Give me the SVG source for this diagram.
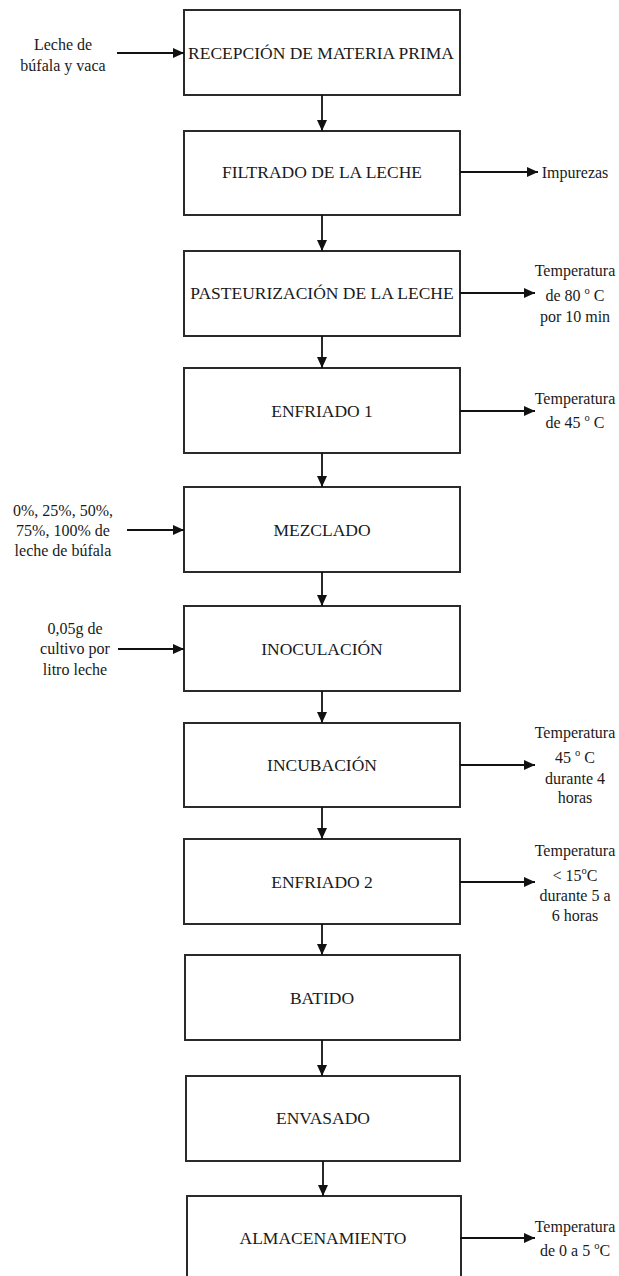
<svg xmlns="http://www.w3.org/2000/svg" width="619" height="1276" viewBox="0 0 619 1276">
<style>
.box{fill:#fff;stroke:#2a2a2a;stroke-width:2}
.bt{font-family:"Liberation Serif","Times New Roman",serif;font-size:17.5px;fill:#1a1a1a;text-anchor:middle;dominant-baseline:central}
.st{font-family:"Liberation Serif","Times New Roman",serif;font-size:16px;fill:#1a1a1a;text-anchor:middle;dominant-baseline:central}
.sup{font-size:10.5px}
.c{stroke:#111;stroke-width:1.8;fill:none;marker-end:url(#ah)}
</style>
<defs>
<marker id="ah" markerUnits="userSpaceOnUse" markerWidth="12" markerHeight="10" refX="11" refY="5" orient="auto">
<path d="M0,0 L11,5 L0,10 z" fill="#111"/>
</marker>
</defs>
<g id="n1"><rect class="box" x="184" y="10" width="276" height="85"/><text class="bt" x="321" y="53">RECEPCIÓN DE MATERIA PRIMA</text></g>
<g id="n2"><rect class="box" x="184" y="131" width="276" height="84"/><text class="bt" x="322" y="172">FILTRADO DE LA LECHE</text></g>
<g id="n3"><rect class="box" x="184" y="251" width="276" height="85"/><text class="bt" x="322" y="293">PASTEURIZACIÓN DE LA LECHE</text></g>
<g id="n4"><rect class="box" x="184" y="368" width="276" height="85"/><text class="bt" x="322" y="411">ENFRIADO 1</text></g>
<g id="n5"><rect class="box" x="184" y="487" width="276" height="85"/><text class="bt" x="322" y="530">MEZCLADO</text></g>
<g id="n6"><rect class="box" x="184" y="606" width="276" height="85"/><text class="bt" x="322" y="649">INOCULACIÓN</text></g>
<g id="n7"><rect class="box" x="184" y="723" width="276" height="84"/><text class="bt" x="322" y="765">INCUBACIÓN</text></g>
<g id="n8"><rect class="box" x="184" y="839" width="276" height="85"/><text class="bt" x="322" y="882">ENFRIADO 2</text></g>
<g id="n9"><rect class="box" x="185" y="955" width="275" height="85"/><text class="bt" x="322" y="998">BATIDO</text></g>
<g id="n10"><rect class="box" x="186" y="1076" width="274" height="85"/><text class="bt" x="323" y="1118">ENVASADO</text></g>
<g id="n11"><rect class="box" x="187" y="1196" width="274" height="90"/><text class="bt" x="323" y="1238">ALMACENAMIENTO</text></g>
<g id="in1"><text class="st" x="63" y="44">Leche de</text><text class="st" x="63" y="65">búfala y vaca</text></g>
<g id="in5"><text class="st" x="63" y="510">0%, 25%, 50%,</text><text class="st" x="63" y="530">75%, 100% de</text><text class="st" x="63" y="550">leche de búfala</text></g>
<g id="in6"><text class="st" x="75" y="628">0,05g de</text><text class="st" x="75" y="648">cultivo por</text><text class="st" x="75" y="669">litro leche</text></g>
<g id="out2"><text class="st" x="575" y="172">Impurezas</text></g>
<g id="out3"><text class="st" x="575" y="270">Temperatura</text><text class="st" x="575" y="295">de 80 <tspan class="sup" dy="-5">o</tspan><tspan dy="5"> C</tspan></text><text class="st" x="575" y="316">por 10 min</text></g>
<g id="out4"><text class="st" x="575" y="398">Temperatura</text><text class="st" x="575" y="422">de 45 <tspan class="sup" dy="-5">o</tspan><tspan dy="5"> C</tspan></text></g>
<g id="out7"><text class="st" x="575" y="732">Temperatura</text><text class="st" x="575" y="757">45 <tspan class="sup" dy="-5">o</tspan><tspan dy="5"> C</tspan></text><text class="st" x="575" y="778">durante 4</text><text class="st" x="575" y="797">horas</text></g>
<g id="out8"><text class="st" x="575" y="850">Temperatura</text><text class="st" x="575" y="875">&lt; 15<tspan class="sup" dy="-5">o</tspan><tspan dy="5">C</tspan></text><text class="st" x="575" y="895">durante 5 a</text><text class="st" x="575" y="915">6 horas</text></g>
<g id="out11"><text class="st" x="575" y="1226">Temperatura</text><text class="st" x="575" y="1250">de 0 a 5 <tspan class="sup" dy="-5">o</tspan><tspan dy="5">C</tspan></text></g>
<g id="connectors">
<line class="c" x1="117" y1="53" x2="184" y2="53"/>
<line class="c" x1="127" y1="530" x2="184" y2="530"/>
<line class="c" x1="118" y1="649" x2="184" y2="649"/>
<line class="c" x1="460" y1="172" x2="538" y2="172"/>
<line class="c" x1="460" y1="293" x2="535" y2="293"/>
<line class="c" x1="460" y1="411" x2="535" y2="411"/>
<line class="c" x1="460" y1="765" x2="535" y2="765"/>
<line class="c" x1="460" y1="882" x2="535" y2="882"/>
<line class="c" x1="460" y1="1238" x2="535" y2="1238"/>
<line class="c" x1="322" y1="95" x2="322" y2="131"/>
<line class="c" x1="322" y1="215" x2="322" y2="251"/>
<line class="c" x1="322" y1="336" x2="322" y2="368"/>
<line class="c" x1="322" y1="453" x2="322" y2="487"/>
<line class="c" x1="322" y1="572" x2="322" y2="606"/>
<line class="c" x1="322" y1="691" x2="322" y2="723"/>
<line class="c" x1="322" y1="807" x2="322" y2="839"/>
<line class="c" x1="322" y1="924" x2="322" y2="955"/>
<line class="c" x1="322" y1="1040" x2="322" y2="1076"/>
<line class="c" x1="323" y1="1161" x2="323" y2="1196"/>
</g>
</svg>
